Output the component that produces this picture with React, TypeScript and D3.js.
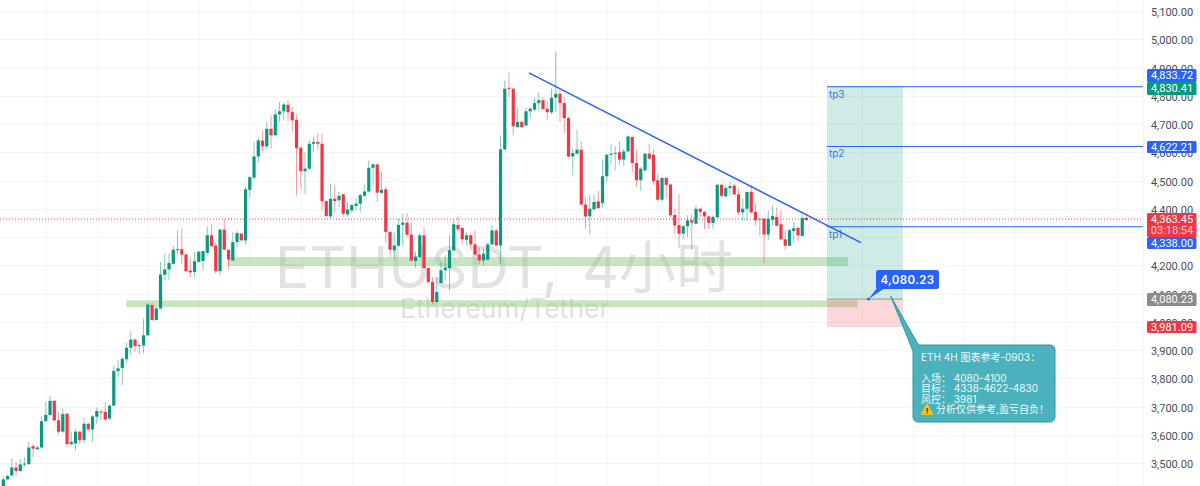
import { useRef, useEffect } from 'react'
import * as d3 from 'd3'

// OHLC, oldest candle first
const opens = [3415,3442,3456,3484,3472,3496,3496,3560,3549,3555,3648,3670,3720,3651,3611,3674,3567,3569,3611,3581,3639,3619,3664,3682,3681,3657,3703,3825,3836,3867,3908,3937,3915,3916,3952,4059,4006,4047,4166,4185,4205,4255,4257,4238,4181,4176,4212,4215,4244,4306,4270,4179,4326,4255,4217,4282,4312,4288,4467,4510,4585,4641,4621,4683,4660,4734,4745,4768,4742,4715,4616,4533,4542,4630,4636,4630,4427,4373,4435,4430,4451,4380,4394,4410,4418,4446,4461,4545,4557,4456,4469,4318,4253,4269,4343,4351,4309,4215,4229,4306,4190,4141,4070,4137,4182,4190,4253,4343,4332,4290,4306,4274,4238,4217,4220,4274,4323,4270,4610,4828,4825,4689,4707,4695,4745,4751,4774,4784,4754,4741,4793,4807,4774,4721,4585,4595,4609,4415,4373,4398,4426,4420,4515,4591,4595,4600,4574,4603,4654,4562,4501,4536,4595,4591,4501,4432,4509,4486,4378,4342,4312,4338,4359,4347,4400,4389,4373,4350,4370,4485,4444,4473,4482,4451,4387,4400,4460,4389,4363,4365,4309,4361,4371,4345,4292,4269,4321,4332,4304,4368]
const highs = [3454,3459,3516,3504,3513,3520,3575,3567,3560,3664,3717,3737,3723,3680,3692,3678,3611,3622,3614,3661,3642,3669,3697,3687,3716,3708,3843,3864,3876,3926,3968,3940,3923,4012,4065,4068,4053,4212,4241,4241,4267,4323,4329,4241,4225,4247,4253,4253,4338,4345,4281,4329,4365,4255,4317,4321,4314,4477,4515,4636,4651,4677,4710,4731,4751,4778,4774,4786,4760,4734,4618,4601,4642,4656,4666,4666,4430,4489,4483,4459,4453,4424,4418,4439,4453,4485,4571,4562,4559,4530,4477,4321,4318,4365,4382,4385,4353,4247,4312,4335,4194,4158,4158,4211,4235,4306,4359,4373,4335,4317,4314,4323,4264,4259,4282,4341,4329,4660,4854,4882,4827,4760,4713,4760,4760,4793,4812,4795,4781,4825,4955,4821,4795,4725,4612,4680,4640,4441,4447,4451,4463,4574,4595,4628,4621,4640,4613,4660,4656,4609,4548,4597,4630,4609,4524,4512,4512,4489,4400,4451,4341,4377,4380,4412,4404,4392,4373,4377,4489,4486,4483,4495,4489,4471,4436,4463,4483,4418,4368,4365,4394,4412,4404,4394,4324,4329,4353,4338,4380,4373]
const lows = [3405,3437,3454,3454,3468,3487,3494,3520,3548,3553,3646,3664,3648,3602,3607,3557,3560,3546,3567,3569,3614,3575,3638,3652,3648,3654,3701,3803,3776,3852,3882,3894,3885,3890,3949,4004,4004,4044,4146,4149,4203,4238,4205,4176,4158,4158,4208,4182,4235,4264,4170,4164,4253,4186,4215,4264,4286,4274,4439,4503,4562,4604,4609,4612,4659,4707,4713,4707,4671,4447,4474,4453,4536,4601,4609,4394,4371,4365,4388,4406,4371,4373,4385,4394,4388,4441,4459,4483,4424,4453,4282,4229,4223,4267,4270,4300,4211,4191,4227,4188,4135,4064,4064,4135,4146,4109,4250,4321,4276,4270,4253,4235,4203,4200,4217,4271,4267,4205,4609,4795,4660,4687,4687,4692,4722,4746,4748,4751,4715,4736,4742,4707,4668,4581,4518,4592,4412,4329,4309,4397,4400,4404,4495,4557,4536,4554,4550,4601,4530,4477,4463,4530,4574,4483,4430,4424,4436,4368,4312,4260,4291,4298,4255,4345,4371,4329,4329,4329,4368,4442,4439,4446,4449,4377,4357,4357,4385,4341,4306,4208,4288,4341,4338,4288,4255,4265,4279,4286,4300,4357]
const closes = [3442,3454,3484,3472,3495,3498,3555,3551,3555,3648,3670,3720,3651,3611,3673,3567,3575,3611,3581,3639,3619,3665,3684,3680,3654,3703,3826,3835,3869,3908,3937,3914,3917,3952,4061,4006,4047,4167,4185,4208,4255,4257,4238,4179,4175,4214,4248,4250,4306,4268,4179,4326,4255,4220,4282,4314,4288,4469,4512,4585,4642,4621,4683,4660,4734,4745,4769,4742,4713,4614,4533,4542,4630,4636,4630,4427,4374,4435,4427,4446,4382,4397,4413,4418,4448,4461,4545,4557,4457,4467,4318,4255,4270,4343,4351,4308,4217,4231,4306,4190,4141,4070,4105,4182,4191,4253,4345,4327,4292,4306,4274,4238,4217,4241,4274,4323,4270,4610,4825,4825,4692,4707,4689,4745,4754,4774,4784,4753,4742,4793,4807,4774,4721,4585,4597,4609,4415,4373,4400,4424,4402,4515,4591,4595,4598,4574,4603,4656,4562,4501,4542,4595,4577,4498,4432,4509,4485,4377,4341,4312,4338,4359,4351,4400,4389,4373,4350,4371,4485,4446,4473,4480,4451,4387,4400,4459,4387,4359,4365,4309,4365,4374,4340,4292,4269,4324,4331,4306,4368,4360]

const priceTicks = [5100,5000,4900,4800,4700,4600,4500,4400,4300,4200,4100,4000,3900,3800,3700,3600,3500]
const timeTicks = [10,22,34,46,58,70,82,94,106,118,130,142,154,166,178,190,202,214,226,238,250,262]

const target3 = 4833.72
const target2 = 4622.21
const target1 = 4338
const entry = 4080.23
const stop = 3981.09
const lastPrice = 4363.45
const lastTp = 4830.41

const noteLines = ['ETH 4H 图表参考-0903：', '', '入场：  4080-4100', '目标：  4338-4622-4830', '风控：  3981']
const noteWarning = '分析仅供参考,盈亏自负！'

const FONT = '"Inter", "Noto Sans CJK SC", sans-serif'
const AXIS_FONT = 'Roboto, sans-serif'
const GREEN = '#089981'
const RED = '#f23645'
const BLUE = '#2962ff'

const App = () => {
    const svgRef = useRef<SVGSVGElement>(null)

    useEffect(() => {
        const width = 1200
        const height = 486
        const panelRight = 1143
        const svg = d3.select(svgRef.current).attr('width', width).attr('height', height)
            .style('position', 'absolute').style('left', 0).style('top', 0)
            .style('font-family', FONT).style('background', '#fff')
        svg.selectAll('*').remove()

        const x = d3.scaleLinear().domain([0, 189]).range([3.3, 806.5])
        const y = d3.scaleLinear().domain([3500, 5100]).range([463, 11])

        // taustaviivat
        svg.append('g').selectAll('line').data(priceTicks).join('line')
            .attr('x1', 0).attr('x2', panelRight)
            .attr('y1', d => Math.round(y(d)) + 0.5).attr('y2', d => Math.round(y(d)) + 0.5)
            .attr('stroke', '#f4f4f5')
        svg.append('g').selectAll('line').data(timeTicks).join('line')
            .attr('x1', d => Math.round(x(d)) + 0.5).attr('x2', d => Math.round(x(d)) + 0.5)
            .attr('y1', 0).attr('y2', height)
            .attr('stroke', '#f6f6f7')
        svg.append('line').attr('x1', panelRight + 0.5).attr('x2', panelRight + 0.5)
            .attr('y1', 0).attr('y2', height).attr('stroke', '#f4f4f5')

        // vesileima
        svg.append('text').text('ETHUSDT, 4小时').attr('x', 275).attr('y', 288)
            .attr('font-size', 57).attr('word-spacing', 8).attr('fill', '#e2e2e2')
        svg.append('text').text('Ethereum/Tether').attr('x', 400).attr('y', 318)
            .attr('font-size', 26.5).attr('fill', '#e2e2e2')

        // tuki-alueet
        svg.append('rect').attr('x', x(52.9)).attr('width', x(198.8) - x(52.9))
            .attr('y', y(4229)).attr('height', y(4197) - y(4229)).attr('fill', '#92cc85').attr('fill-opacity', 0.5)
        svg.append('rect').attr('x', x(28.9)).attr('width', x(201) - x(28.9))
            .attr('y', y(4076)).attr('height', y(4052) - y(4076)).attr('fill', '#92cc85').attr('fill-opacity', 0.5)

        // kynttilät
        const idx = d3.range(opens.length)
        const color = (i: number) => closes[i] >= opens[i] ? GREEN : RED
        svg.append('g').selectAll('line').data(idx).join('line')
            .attr('x1', i => x(i)).attr('x2', i => x(i))
            .attr('y1', i => y(highs[i])).attr('y2', i => y(lows[i]))
            .attr('stroke', color).attr('stroke-opacity', 0.5).attr('stroke-width', 1)
        svg.append('g').selectAll('rect').data(idx).join('rect')
            .attr('x', i => x(i) - 1.6).attr('width', 3.2)
            .attr('y', i => y(Math.max(opens[i], closes[i])))
            .attr('height', i => Math.max(1, Math.abs(y(opens[i]) - y(closes[i]))))
            .attr('fill', color)

        // long position -laatikko
        const boxLeft = x(193.8)
        const boxRight = x(211.7)
        svg.append('rect').attr('x', boxLeft).attr('width', boxRight - boxLeft)
            .attr('y', y(target3)).attr('height', y(entry) - y(target3)).attr('fill', GREEN).attr('fill-opacity', 0.2)
        svg.append('rect').attr('x', boxLeft).attr('width', boxRight - boxLeft)
            .attr('y', y(entry)).attr('height', y(stop) - y(entry)).attr('fill', RED).attr('fill-opacity', 0.2)
        svg.append('line').attr('x1', boxLeft).attr('x2', boxRight)
            .attr('y1', y(entry)).attr('y2', y(entry)).attr('stroke', '#8f9a96').attr('stroke-width', 1)

        // viimeisin hinta
        svg.append('line').attr('x1', 0).attr('x2', panelRight)
            .attr('y1', y(lastPrice)).attr('y2', y(lastPrice))
            .attr('stroke', RED).attr('stroke-dasharray', '1 2').attr('stroke-width', 1)

        // tp-viivat
        const targets = [target3, target2, target1]
        svg.append('g').selectAll('line').data(targets).join('line')
            .attr('x1', boxLeft).attr('x2', panelRight)
            .attr('y1', d => y(d) + 0.5).attr('y2', d => y(d) + 0.5)
            .attr('stroke', BLUE).attr('stroke-width', 1)
        svg.append('g').selectAll('text').data(['tp3', 'tp2', 'tp1']).join('text')
            .text(d => d).attr('x', boxLeft + 2)
            .attr('y', (_, i) => y(targets[i]) + 11.5)
            .attr('font-size', 10).attr('fill', '#3a78e0')

        // trendiviiva
        svg.append('line').attr('x1', x(123.7)).attr('x2', x(201.8))
            .attr('y1', y(4881)).attr('y2', y(4280))
            .attr('stroke', BLUE).attr('stroke-width', 1.6)

        // hinta-akseli
        svg.append('g').attr('transform', `translate(${panelRight},0)`)
            .call(d3.axisRight(y).tickValues(priceTicks).tickSize(0).tickFormat(d3.format(',.2f')))
            .call(g => g.select('.domain').remove())
            .selectAll('text')
            .attr('x', 29).attr('dy', '0.42em').attr('text-anchor', 'middle')
            .attr('fill', '#4a4d55').style('font-size', '11px').style('font-family', AXIS_FONT)

        // hintaliput
        const tags = [
            { text: d3.format(',.2f')(target3), top: 69, h: 13, fill: BLUE },
            { text: d3.format(',.2f')(lastTp), top: 82, h: 13, fill: GREEN },
            { text: d3.format(',.2f')(target2), top: 141, h: 12, fill: BLUE },
            { text: d3.format(',.2f')(target1), top: 237, h: 12, fill: BLUE },
            { text: d3.format(',.2f')(entry), top: 293, h: 13, fill: '#8a8a8a' },
            { text: d3.format(',.2f')(stop), top: 321, h: 12, fill: RED },
        ]
        const tag = svg.append('g').selectAll('g').data(tags).join('g')
        tag.append('rect').attr('x', 1147).attr('width', 49.5)
            .attr('y', d => d.top).attr('height', d => d.h).attr('rx', 1.5).attr('fill', d => d.fill)
        tag.append('text').text(d => d.text).attr('x', 1172).attr('y', d => d.top + d.h / 2 + 3.8)
            .attr('text-anchor', 'middle').attr('font-size', 11).attr('font-family', AXIS_FONT).attr('fill', '#fff')

        svg.append('rect').attr('x', 1147).attr('y', 213).attr('width', 49.5).attr('height', 24)
            .attr('rx', 1.5).attr('fill', RED)
        svg.append('text').text(d3.format(',.2f')(lastPrice)).attr('x', 1172).attr('y', 223)
            .attr('text-anchor', 'middle').attr('font-size', 11).attr('font-family', AXIS_FONT).attr('fill', '#fff')
        svg.append('text').text('03:18:54').attr('x', 1172).attr('y', 234)
            .attr('text-anchor', 'middle').attr('font-size', 11).attr('font-family', AXIS_FONT).attr('fill', '#fff').attr('fill-opacity', 0.75)

        // hintalappu 4,080.23
        const anchorX = x(203.6)
        svg.append('path')
            .attr('d', `M${anchorX},${y(entry)} L877,288 L885,288 Z`).attr('fill', BLUE)
        svg.append('rect').attr('x', 876).attr('y', 270).attr('width', 63).attr('height', 19)
            .attr('rx', 2.5).attr('fill', BLUE)
        svg.append('circle').attr('cx', anchorX).attr('cy', y(entry)).attr('r', 1.5).attr('fill', BLUE)
        svg.append('text').text(d3.format(',.2f')(entry)).attr('x', 907.5).attr('y', 284)
            .attr('text-anchor', 'middle').attr('font-size', 11.5).attr('font-weight', 600)
            .attr('letter-spacing', 0.4).attr('fill', '#fff')

        // kommenttilaatikko
        const tipX = x(208.8)
        svg.append('path')
            .attr('d', `M${tipX},${y(entry) - 3} L918.5,345 H1050 a5,5 0 0 1 5,5 V417 a5,5 0 0 1 -5,5 H918 a5,5 0 0 1 -5,-5 V351 Z`)
            .attr('fill', '#4bb1bc').attr('stroke', '#2a9ca5').attr('stroke-width', 1)
        svg.append('g').selectAll('text').data(noteLines).join('text')
            .text(d => d).attr('x', 921).attr('y', (_, i) => 361 + i * 10.4)
            .attr('font-size', 10).attr('fill', '#eefafa')
        svg.append('path').attr('d', 'M927,403.5 L933,414.5 H921 Z')
            .attr('fill', '#f2c21a').attr('stroke', '#f2c21a').attr('stroke-linejoin', 'round')
        svg.append('text').text('!').attr('x', 927).attr('y', 413.5).attr('text-anchor', 'middle')
            .attr('font-size', 8).attr('font-weight', 700).attr('fill', '#333')
        svg.append('text').text(noteWarning).attr('x', 936).attr('y', 413)
            .attr('font-size', 10).attr('fill', '#eefafa')
    }, [])

    return <svg ref={svgRef}></svg>
}

export default App
